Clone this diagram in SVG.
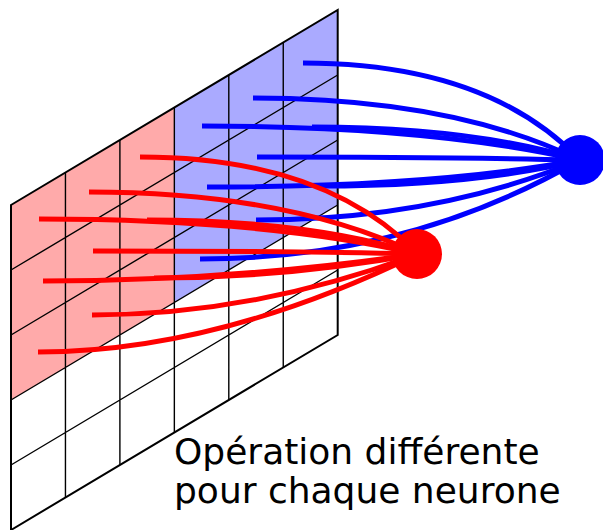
<svg xmlns="http://www.w3.org/2000/svg" width="603" height="530" viewBox="0 0 603 530">
<style>
.grid{fill:none;stroke:#000;stroke-width:1.4}
.border{fill:none;stroke:#000;stroke-width:2}
.b{fill:none;stroke:#0000ff;stroke-width:5;stroke-linecap:butt}
.r{fill:none;stroke:#ff0000;stroke-width:5;stroke-linecap:butt}
.lbl{font-family:"DejaVu Sans","Liberation Sans",sans-serif;font-size:36px;fill:#000}
</style>
<rect width="603" height="530" fill="#fff"/>
<g id="grid">
<polygon points="11,205 174.35,107.5 174.35,302.5 11,400" fill="#ffaaaa"/>
<polygon points="174.35,107.5 337.7,10 337.7,205 174.35,302.5" fill="#aaaaff"/>
<path class="grid" d="M65.45,172.5V497.5M119.9,140V465M174.35,107.5V432.5M228.8,75V400M283.25,42.5V367.5M11,270L337.7,75M11,335L337.7,140M11,400L337.7,205M11,465L337.7,270"/>
<polygon class="border" points="11,205 337.7,10 337.7,335 11,530"/>
</g>
<g id="connectors">
<g id="blue-links">
<path class="b" d="M303,63Q487,63 580,160"/>
<path class="b" d="M253,98Q452,98 580,160"/>
<path class="b" d="M202,126Q429,126 580,160"/>
<path class="b" d="M312,127Q473,127 580,160"/>
<path class="b" d="M257,157Q451,157 580,160"/>
<path class="b" d="M207,187Q431,187 580,160"/>
<path class="b" d="M318,186Q475,186 580,160"/>
<path class="b" d="M256,220Q434,220 580,160"/>
<path class="b" d="M200,259Q409,259 580,160"/>
</g>
<g id="red-links">
<path class="r" d="M140,157Q324,157 418,254"/>
<path class="r" d="M89,192Q288,192 418,254"/>
<path class="r" d="M39,219Q266,219 418,254"/>
<path class="r" d="M147,220Q310,220 418,254"/>
<path class="r" d="M93,251Q288,251 418,254"/>
<path class="r" d="M43,281Q231,281 418,254"/>
<path class="r" d="M154,278Q286,278 418,254"/>
<path class="r" d="M92,315Q255,315 418,254"/>
<path class="r" d="M38,352Q217,352 418,254"/>
</g>
</g>
<g id="neuron-blue"><circle cx="580" cy="160" r="25" fill="#0000ff"/></g>
<g id="neuron-red"><circle cx="417" cy="254" r="25" fill="#ff0000"/></g>
<g id="label">
<text class="lbl" x="174" y="464">Opération différente</text>
<text class="lbl" x="174" y="502.5">pour chaque neurone</text>
</g>
</svg>
